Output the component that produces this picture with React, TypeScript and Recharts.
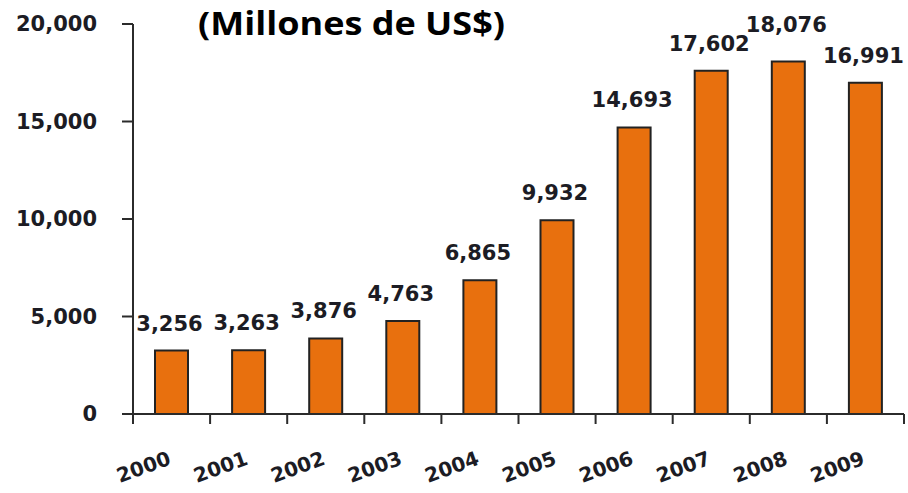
import React from 'react';
import { BarChart, Bar, XAxis, YAxis, LabelList } from 'recharts';

const years = ['2000', '2001', '2002', '2003', '2004', '2005', '2006', '2007', '2008', '2009'];
const values = [3256, 3263, 3876, 4763, 6865, 9932, 14693, 17602, 18076, 16991];
const yTicks = [0, 5000, 10000, 15000, 20000];
const title = '(Millones de US$)';

const data = years.map((y, i) => ({ year: y, value: values[i] }));

const W = 908;
const H = 493;
const LEFT = 133;
const RIGHT = 4;
const HALF_BAND = (W - LEFT - RIGHT) / years.length / 2;
const AXIS_COLOR = '#2b2b2b';
const TEXT_COLOR = '#1c1c24';
const FONT = '"DejaVu Sans", Verdana, sans-serif';

const fmt = (v: number) => v.toLocaleString('en-US');

const XTick = (props: any) => {
  const { x, y, payload, index } = props;
  const last = index === years.length - 1;
  return (
    <g>
      <line x1={x - HALF_BAND} y1={y} x2={x - HALF_BAND} y2={y + 10} stroke={AXIS_COLOR} strokeWidth={2} />
      {last && <line x1={x + HALF_BAND} y1={y} x2={x + HALF_BAND} y2={y + 10} stroke={AXIS_COLOR} strokeWidth={2} />}
      <text
        x={x + 0.5}
        y={y + 50}
        textAnchor="end"
        transform={`rotate(-20, ${x + 0.5}, ${y + 50})`}
        fontFamily={FONT}
        fontWeight="bold"
        fontSize={20}
        fill={TEXT_COLOR}
      >
        {payload.value}
      </text>
    </g>
  );
};

const BarLabel = (props: any) => {
  const { x, y, width, value, index } = props;
  const extra = index === 8 ? 10 : 0;
  return (
    <text
      x={x + width / 2 - 2}
      y={y - 20 - extra}
      textAnchor="middle"
      fontFamily={FONT}
      fontWeight="bold"
      fontSize={21}
      fill={TEXT_COLOR}
    >
      {fmt(value)}
    </text>
  );
};

export default function App() {
  return (
    <div style={{ position: 'absolute', left: 0, top: 0, width: W, height: H, background: '#fff' }}>
      <BarChart width={W} height={H} data={data} margin={{ top: 24, right: RIGHT, left: 0, bottom: 0 }}>
        <XAxis
          dataKey="year"
          height={79}
          interval={0}
          tickLine={false}
          tickSize={0}
          tickMargin={0}
          axisLine={{ stroke: AXIS_COLOR, strokeWidth: 2 }}
          tick={<XTick />}
        />
        <YAxis
          width={LEFT}
          domain={[0, 20000]}
          ticks={yTicks}
          interval={0}
          tickSize={11}
          tickMargin={25}
          tickFormatter={fmt}
          axisLine={{ stroke: AXIS_COLOR, strokeWidth: 2 }}
          tickLine={{ stroke: AXIS_COLOR, strokeWidth: 2 }}
          tick={{ fontFamily: FONT, fontWeight: 'bold', fontSize: 21, fill: TEXT_COLOR }}
        />
        <Bar dataKey="value" fill="#E8700E" stroke="#222" strokeWidth={2} barSize={33} isAnimationActive={false}>
          <LabelList dataKey="value" content={<BarLabel />} />
        </Bar>
      </BarChart>
      <svg width={W} height={60} style={{ position: 'absolute', left: 0, top: 0 }}>
        <text
          x={351.5}
          y={35}
          textAnchor="middle"
          textLength={307}
          lengthAdjust="spacingAndGlyphs"
          fontFamily='"Open Sans", sans-serif'
          fontWeight="bold"
          fontSize={32}
          fill="#000"
        >
          {title}
        </text>
      </svg>
    </div>
  );
}
